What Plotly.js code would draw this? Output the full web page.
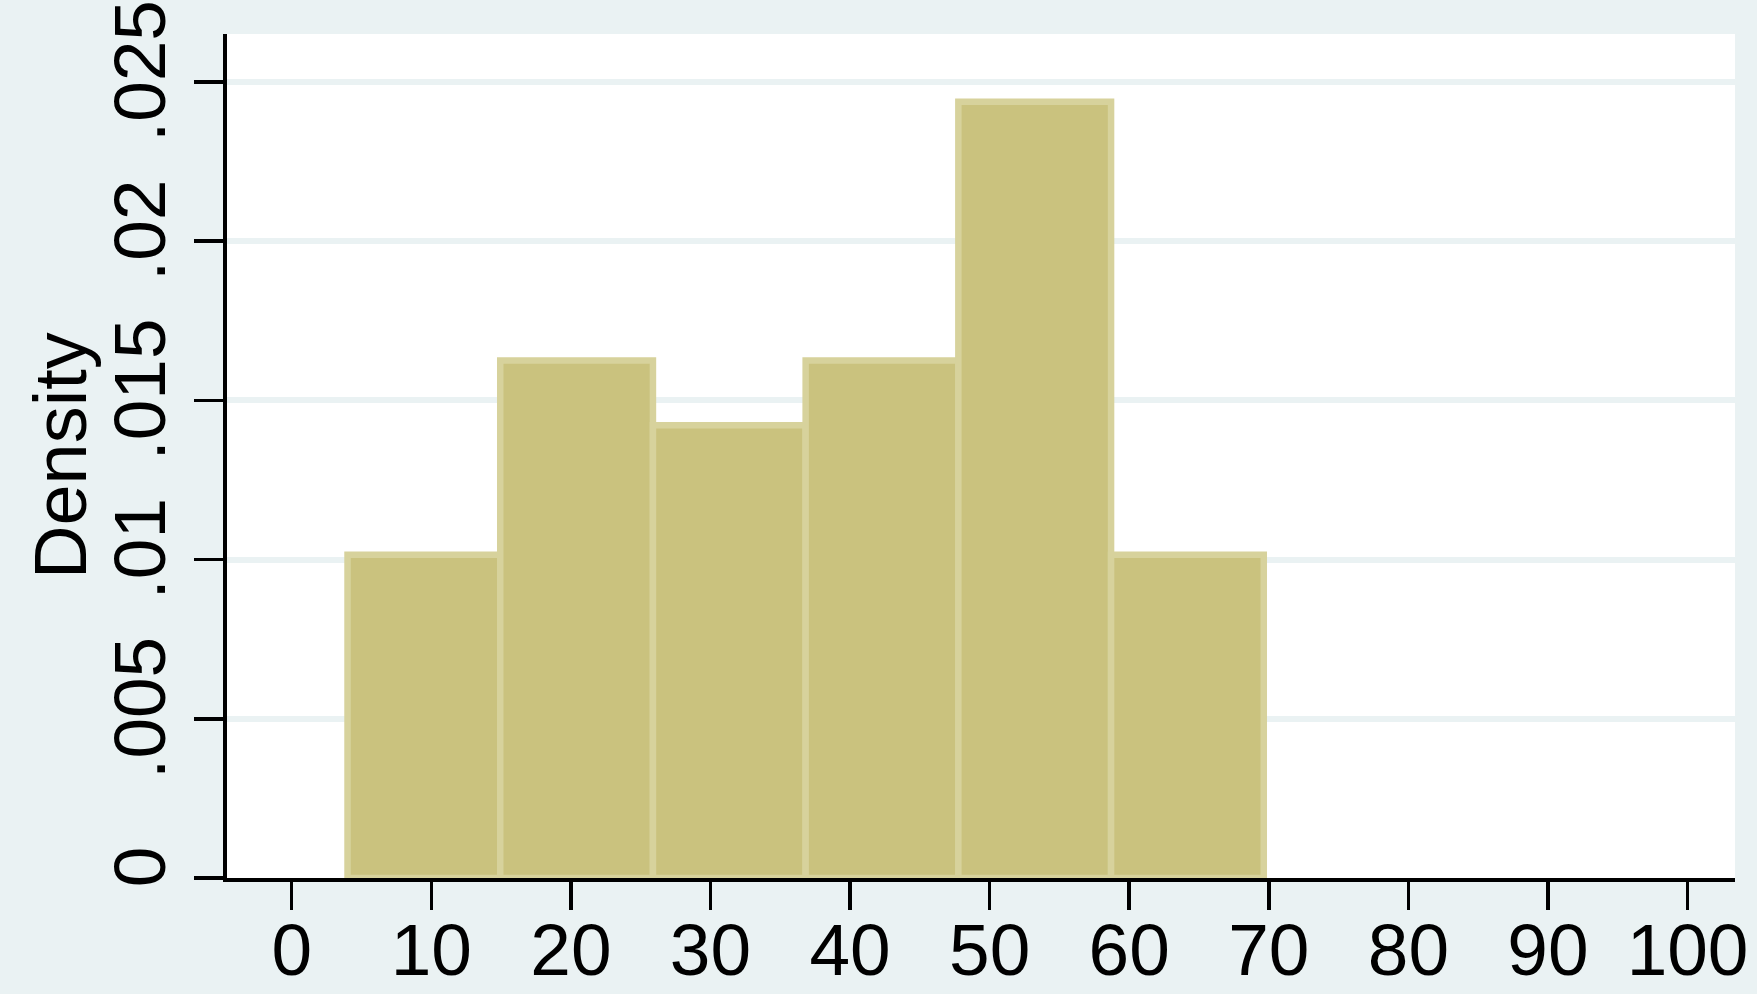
<!DOCTYPE html>
<html>
<head>
<meta charset="utf-8">
<script src="https://cdn.plot.ly/plotly-3.0.1.min.js"></script>
<style>
  html, body { margin: 0; padding: 0; background: #EAF2F3; }
  #chart { width: 1757px; height: 994px; }
</style>
</head>
<body>
<div id="chart"></div>
<script>
// Histogram bin edges (x) and densities
const binEdges = [4, 14.94, 25.88, 36.82, 47.76, 58.70, 69.64];
const densities = [0.01015, 0.01625, 0.01422, 0.01625, 0.02438, 0.01015];

const xTickVals = [0, 10, 20, 30, 40, 50, 60, 70, 80, 90, 100];
const xTickText = ["0", "10", "20", "30", "40", "50", "60", "70", "80", "90", "100"];
const yTickVals = [0, 0.005, 0.01, 0.015, 0.02, 0.025];
const yTickText = ["0", ".005", ".01", ".015", ".02", ".025"];
const yAxisTitle = "Density";

const centers = [];
const widths = [];
for (let i = 0; i < densities.length; i++) {
  centers.push((binEdges[i] + binEdges[i + 1]) / 2);
  widths.push(binEdges[i + 1] - binEdges[i]);
}

const FONT = '"Liberation Sans", Arial, Helvetica, sans-serif';

const trace = {
  type: 'bar',
  x: centers,
  y: densities,
  width: widths,
  marker: {
    color: '#CAC27E',
    line: { color: '#D7D29C', width: 6.5 }
  },
  hoverinfo: 'x+y'
};

const L = 227, R = 22, T = 34, B = 116, W = 1757;
const plotW = W - L - R;

const layout = {
  width: 1757,
  height: 994,
  paper_bgcolor: '#EAF2F3',
  plot_bgcolor: '#FFFFFF',
  margin: { l: L, r: R, t: T, b: B, pad: 0 },
  showlegend: false,
  bargap: 0,
  font: { family: FONT, color: '#000000', size: 73 },
  xaxis: {
    range: [-4.635, 103.40],
    tickmode: 'array',
    tickvals: xTickVals,
    ticktext: xTickText,
    ticks: 'outside',
    ticklen: 28,
    tickwidth: 3.5,
    tickcolor: '#000000',
    ticklabelstandoff: -22,
    showline: true,
    linecolor: '#000000',
    linewidth: 3.5,
    showgrid: false,
    zeroline: false,
    tickfont: { family: FONT, size: 73, color: '#000000' },
    fixedrange: true
  },
  yaxis: {
    range: [0, 0.026508],
    tickmode: 'array',
    tickvals: yTickVals,
    ticktext: yTickText,
    tickangle: -90,
    ticks: 'outside',
    ticklen: 29,
    tickwidth: 3.5,
    tickcolor: '#000000',
    showline: true,
    linecolor: '#000000',
    linewidth: 4,
    showgrid: true,
    gridcolor: '#EAF2F3',
    gridwidth: 6,
    zeroline: false,
    tickfont: { family: FONT, size: 73, color: '#000000' },
    fixedrange: true
  },
  annotations: [{
    text: yAxisTitle,
    xref: 'paper', yref: 'paper',
    x: (60 - L) / plotW, y: 0.5,
    xanchor: 'center', yanchor: 'middle',
    textangle: -90,
    showarrow: false,
    font: { family: FONT, size: 74, color: '#000000' }
  }]
};

Plotly.newPlot('chart', [trace], layout, { displayModeBar: false, staticPlot: true });
</script>
</body>
</html>
